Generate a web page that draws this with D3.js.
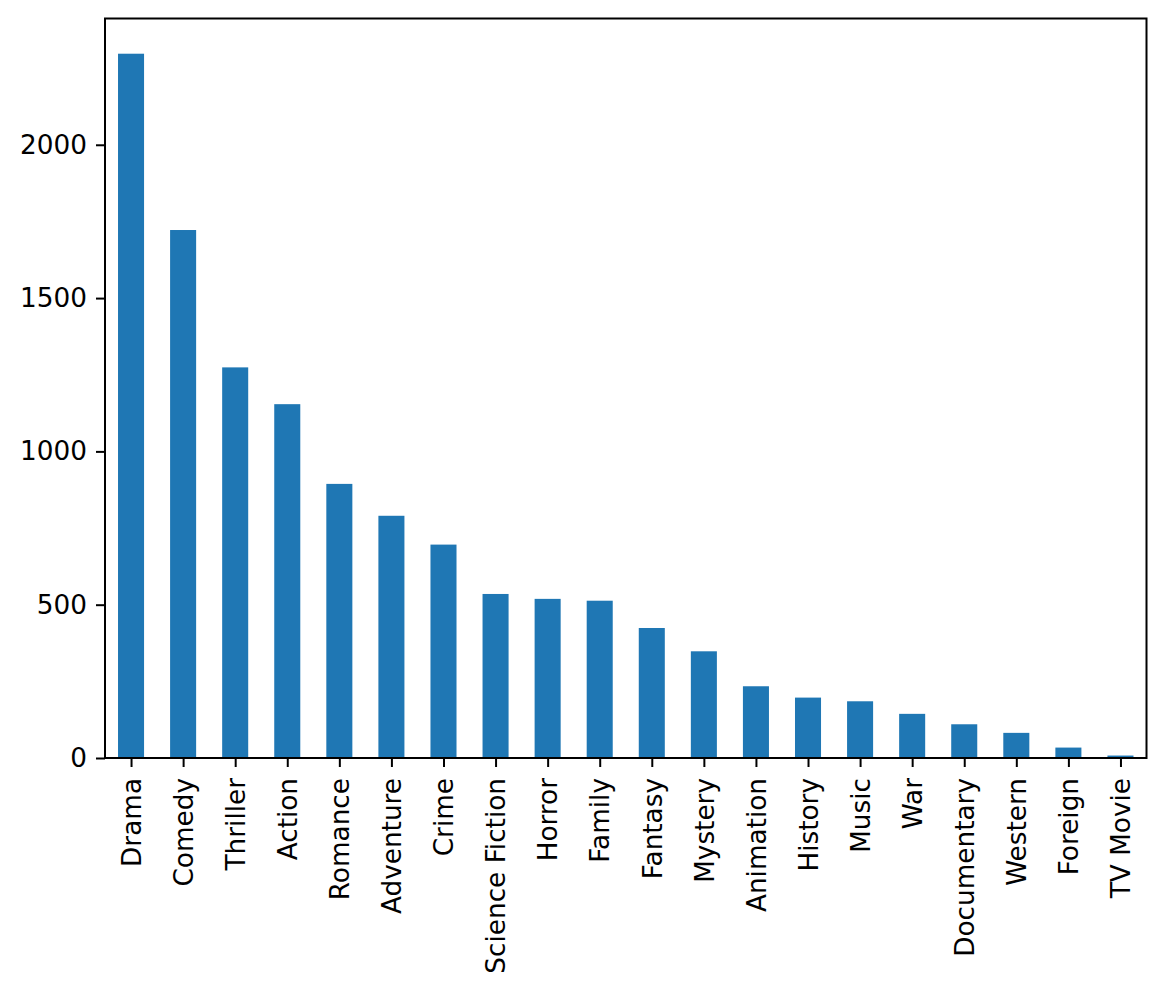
<!DOCTYPE html>
<html>
<head>
<meta charset="utf-8">
<script src="https://cdn.jsdelivr.net/npm/d3@7"></script>
<style>
  body { margin: 0; background: #fff; }
  svg { display: block; }
  text { font-family: "DejaVu Sans", sans-serif; }
</style>
</head>
<body>
<div id="graph"></div>
<script>
var genres = ['Drama', 'Comedy', 'Thriller', 'Action', 'Romance', 'Adventure', 'Crime',
  'Science Fiction', 'Horror', 'Family', 'Fantasy', 'Mystery', 'Animation', 'History',
  'Music', 'War', 'Documentary', 'Western', 'Foreign', 'TV Movie']
var counts = [2297, 1722, 1274, 1154, 894, 790, 696, 535, 519, 513, 424, 348, 234, 197,
  185, 144, 110, 82, 34, 8]
var yTicks = [0, 500, 1000, 1500, 2000]

var width = 1166, height = 994
var m = {left: 105, right: 19.5, top: 18.5, bottom: 236}
var w = width - m.left - m.right, h = height - m.top - m.bottom

var svg = d3.select('#graph').append('svg')
  .attr('width', width).attr('height', height)

var g = svg.append('g').attr('transform', `translate(${m.left},${m.top})`)

// pandas bar: positions 0..n-1, bar width .5, xlim -.5..n-.5
var x = d3.scaleLinear().domain([-0.5, genres.length - 0.5]).range([0, w])
var y = d3.scaleLinear().domain([0, d3.max(counts)*1.05]).range([h, 0])

g.selectAll('rect.bar').data(counts).join('rect')
  .attr('class', 'bar')
  .attr('x', (d, i) => x(i - 0.25))
  .attr('width', (d, i) => x(i + 0.25) - x(i - 0.25))
  .attr('y', d => y(d))
  .attr('height', d => y(0) - y(d))
  .attr('fill', '#1f77b4')

var yAxis = g.append('g').call(d3.axisLeft(y).tickValues(yTicks).tickSize(9).tickPadding(9).tickFormat(d3.format('d')))
var xAxis = g.append('g').attr('transform', `translate(0,${h})`)
  .call(d3.axisBottom(x).tickValues(d3.range(genres.length)).tickSize(9).tickPadding(9).tickFormat(i => genres[i]))

;[yAxis, xAxis].forEach(a => {
  a.select('.domain').remove()
  a.selectAll('line').attr('stroke', '#000').attr('stroke-width', 2)
  a.selectAll('text').attr('fill', '#000').style('font-size', '26.3px')
})

xAxis.selectAll('text')
  .attr('text-anchor', 'end')
  .attr('transform', 'rotate(-90)')
  .attr('x', -20)
  .attr('y', 0)
  .attr('dy', '0.35em')

g.append('rect')
  .attr('width', w).attr('height', h)
  .attr('fill', 'none').attr('stroke', '#000').attr('stroke-width', 2)
</script>
</body>
</html>
